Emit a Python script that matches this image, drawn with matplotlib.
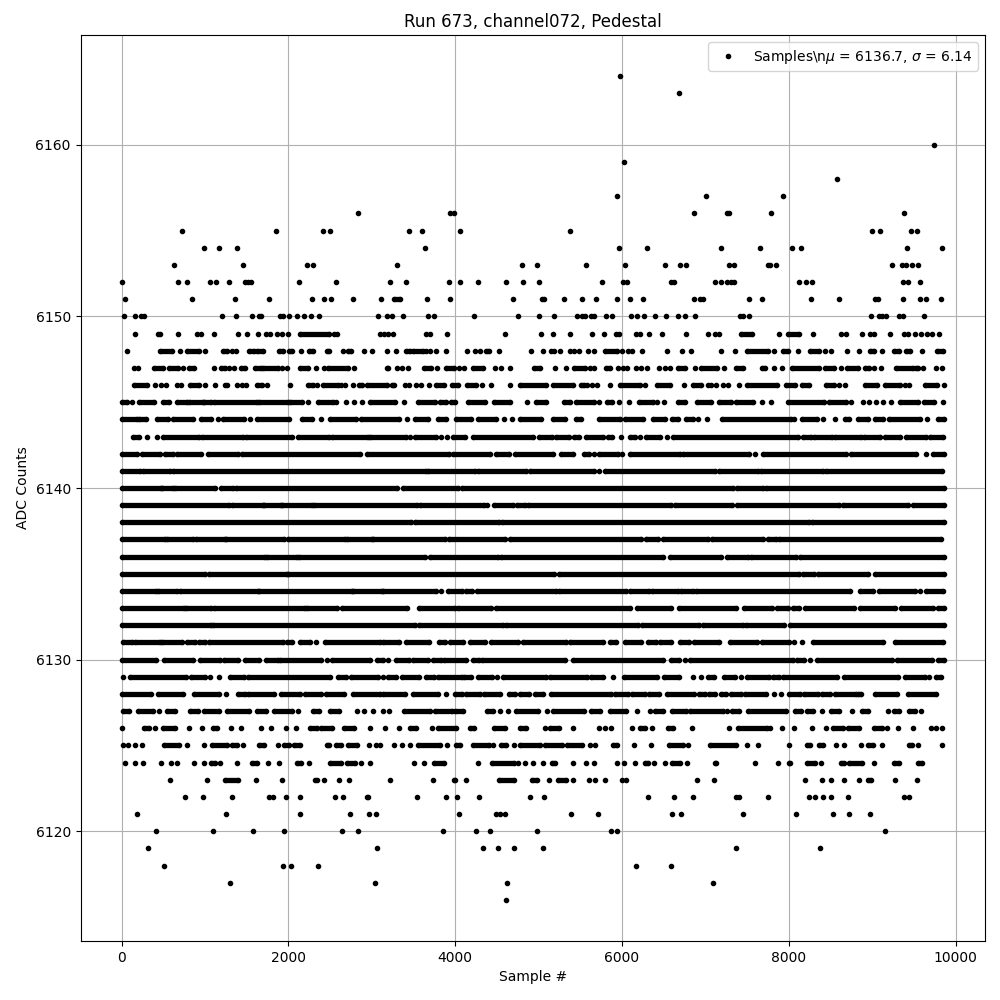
import matplotlib
matplotlib.use("Agg")
import matplotlib.pyplot as plt

# one list per ADC level
# a number is one visible dot, a tuple is a stretch where the dots merge into a bar
lvl_6164 = [5976]
lvl_6163 = [6684]
lvl_6160 = [9744]
lvl_6159 = [6024]
lvl_6158 = [8580]
lvl_6157 = [5940, 7008, 7932]
lvl_6156 = [2840, 3940, 3980, 6864, 7264, 7288, 7788, 9384]
lvl_6155 = [728, 1856, 2420, 2504, 3452, 3596, 4052, 5376, 9000, 9096, 9468, 9540]
lvl_6154 = [992, 1172, 1388, 3632, 5964, 6300, 7188, 7656, 8040, 8148, 9420, 9840]
lvl_6153 = [632, 1460, 2228, 2292, 3308, 4796, 4976, 5568, 6036, 6516, 6696, 6768, 7284, 7344,
            7752, 7776, 7848, 9240, 9360, 9408, 9480, 9552]
lvl_6152 = [0, 680, 788, 1064, 1136, 1292, 1484, 1520, 1556, 2132, 2576, 3224, 3416, 3920, 4052,
            4268, 4604, 4808, 5000, 5760, 6012, 6060, 6592, 6620, 7116, 7188, 7260, 7308, 7344,
            8124, 8208, 8280, 9372, 9432, 9576]
lvl_6151 = [44, 848, 1364, 1772, 2288, 2432, 2516, 2780, 3116, (3268, 3344), 3656, 3932, 4688,
            5040, 5064, 5304, 5520, 5688, 5940, 6096, 6252, 6864, 6936, 6972, 7524, 7680, 8268,
            8604, 9036, 9072, 9372, 9576, 9640, 9828]
lvl_6150 = [32, 164, 236, 272, 1208, 1376, 1568, 1652, 1676, 1904, 1940, 2012, 2108, 2192, 2276,
            2372, 3080, 3188, 3248, 3380, 3668, 3740, 4220, 4748, 5000, 5184, 5460, 5520, 5556,
            5628, 5664, 5808, 5880, 6108, 6180, 6264, 6396, 6528, 6672, 6756, 6876, 7416, 7452,
            7524, 8988, 9084, 9120, 9168, 9324, 9372, 9624]
lvl_6149 = [164, 440, 464, 676, 908, 956, 1112, 1400, 1504, 1640, 1736, 1784, 1868, 1928, 2000,
            (2144, 2492), 2552, 2588, 3104, 3152, 3200, 3260, 3644, 3692, 3900, 4592, 5028, 5172,
            5376, 5640, 5784, 5928, 5964, 6168, 6216, 6324, 6480, 6768, 7032, 7116, 7164,
            (7428, 7560), 7884, (7992, 8124), 8292, 8628, 8692, 8880, 8976, 9024, 9216, 9384,
            9432, 9516, 9588, 9660, 9720, 9804]
lvl_6148 = [68, (464, 608), 704, (788, 932), 1004, (1220, 1268), 1328, 1376, (1532, 1592),
            (1628, 1700), (1892, 1940), (2012, 2048), 2156, (2252, 2300), (2468, 2492), 2660,
            (2720, 2756), 2912, 3008, 3188, 3296, (3416, 3464), (3500, 3608), 3644, 3692, 3764,
            3884, 4136, 4232, 4292, (4364, 4400), 4524, 4904, 5052, 5148, 5184, 5256, 5376, 5424,
            5484, 5592, 5664, (5796, 5940), 6000, 6072, 6120, 6240, 6540, 6720, 6828, 7188, 7356,
            (7500, 7752), 7820, (7932, 7992), 8112, (8256, 8364), 8436, 8508, 8700, 8844,
            (8976, 9024), 9116, (9264, 9324), (9408, 9456), 9600, (9780, 9852)]
lvl_6147 = [152, 200, (392, 500), (572, 680), 740, (812, 872), 1112, (1196, 1244), 1292, 1352,
            (1436, 1484), (1604, 1676), (1700, 1880), 1928, 1988, (2144, 2240), 2336, 2432,
            (2480, 2720), 2792, (3180, 3200), 3308, 3368, 3440, (3620, 3704), 3776, (3884, 3980),
            4040, 4100, (4208, 4328), 4472, 4544, 4652, (4940, 5020), 5196, 5328, (5424, 5556),
            5616, 5664, (5808, 5856), 5952, 6012, 6060, 6168, 6228, 6300, 6444, 6516, 6576,
            (6672, 6756), 6876, (6948, 7140), 7224, (7368, 7452), (7680, 7716), 7820, 7920,
            (8040, 8364), (8436, 8544), 8628, (8700, 8832), (8916, 8964), 9024, 9108,
            (9288, 9492), (9528, 9552), 9612, 9768, 9840]
lvl_6146 = [(152, 308), 404, 476, 536, 668, 716, (824, 932), 1004, 1120, 1244, 1268, 1388, 1448,
            1496, (1628, 1688), 1748, 2024, (2240, 2300), 2348, (2420, 2600), 2636, 2684, 2780,
            (2852, 2888), (2948, 3188), (3248, 3272), 3404, 3452, 3536, 3584, 3680, (3764, 3860),
            (3956, 4028), (4136, 4244), 4316, 4424, 4652, (4772, 5092), (5172, 5412),
            (5508, 5544), 5580, 5640, 5700, 5856, (5976, 6216), 6276, (6420, 6576), 6744,
            (6852, 6948), 7032, 7068, 7128, 7212, 7272, 7404, (7500, 7860), (7968, 8076),
            (8160, 8244), (8448, 8544), 8604, 8676, (8916, 9060), (9156, 9336), 9396, 9444,
            (9636, 9780), 9860]
lvl_6145 = [(0, 68), 128, (212, 392), (500, 572), (668, 788), (812, 980), (992, 1076),
            (1112, 1620), (1652, 2000), (2020, 2168), 2240, (2360, 2540), 2576, 2692, 2792, 2888,
            (2984, 3280), 3392, (3552, 3752), (3812, 3892), (3952, 4000), (4152, 4352),
            (4464, 4652), 4864, (4964, 5084), (5304, 5372), (5444, 5660), 5724, (5820, 5884),
            5964, 6084, (6204, 6372), 6420, 6500, (6672, 6752), (6896, 7068), (7160, 7308),
            (7368, 7568), 7680, 7788, (7988, 8428), (8488, 8688), 8744, 8888, 8960, 9044, 9128,
            9224, (9328, 9548), (9620, 9740), 9848]
lvl_6144 = [(0, 188), (212, 296), (428, 560), (620, 860), (956, 1076), 1160, (1220, 1472), 1544,
            (1620, 2012), (2168, 2288), 2392, (2504, 2816), (2876, 3332), 3420, (3524, 3672),
            (3792, 3892), (4012, 4192), (4272, 4492), 4584, 4680, (4772, 5032), (5172, 5312),
            (5452, 5512), (5724, 5972), (6032, 6252), (6372, 6512), (6604, 6672), (6768, 6848),
            6916, 7020, (7196, 8028), 8060, (8156, 8336), 8408, 8552, (8672, 8728), (8828, 8948),
            (9028, 9128), (9200, 9568), 9656, (9788, 9860)]
lvl_6143 = [(140, 212), 308, 428, (500, 932), (968, 1460), (1488, 2048), (2120, 2492),
            (2528, 2960), (2984, 3412), 3460, (3524, 3772), 3832, 3900, (3972, 4112), (4212, 4932),
            (5004, 5164), (5212, 5360), (5424, 5484), (5572, 5772), (5832, 5884), 5992,
            (6100, 6152), 6212, (6292, 6460), 6540, (6612, 8108), (8168, 8268), (8308, 8516),
            (8556, 8868), (8900, 9088), (9148, 9328), (9408, 9648), (9688, 9848)]
lvl_6142 = [(0, 188), (248, 464), (524, 620), (668, 956), (1040, 1400), (1448, 2856),
            (2948, 3924), (3972, 4412), (4492, 4644), (4712, 5172), (5264, 5412), (5544, 5604),
            5664, (5724, 5952), 6000, (6100, 6692), (6732, 7528), 7600, (7688, 8688),
            (8748, 9528), 9648, (9728, 9860)]
lvl_6141 = [(0, 224), (260, 584), (620, 3652), (3672, 4232), (4272, 4844), (4892, 5660), 5724,
            (5792, 7120), (7160, 7628), (7668, 8408), (8448, 9840)]
lvl_6140 = [(0, 476), (490, 620), (644, 1124), (1196, 1340), (1376, 3300), (3372, 4032),
            (4084, 7336), (7376, 7688), (7728, 9860)]
lvl_6139 = [(0, 1292), (1328, 1700), (1712, 1912), (1928, 2288), (2312, 3540), (3580, 4340), 4380,
            (4460, 4692), (4740, 4832), (4872, 6592), (6632, 7320), (7376, 8608), (8648, 9428),
            (9488, 9860)]
lvl_6138 = [(0, 3472), (3524, 4524), (4564, 8240), (8280, 9860)]
lvl_6137 = [(0, 524), (548, 860), (896, 1240), (1256, 1952), (2000, 2684), (2708, 3008),
            (3020, 3872), (3924, 4592), (4660, 6232), (6284, 6432), (6492, 7028), (7076, 7696),
            (7748, 7848), (7888, 9828)]
lvl_6136 = [(0, 1724), (1748, 2100), (2132, 3632), (3700, 4512), (4552, 6492), (6572, 7188),
            (7256, 7508), (7548, 8088), (8136, 9860)]
lvl_6135 = [(0, 1004), (1052, 1988), (2000, 5180), (5240, 8128), (8168, 8308), (8348, 8948),
            (9028, 9860)]
lvl_6134 = [(0, 416), (440, 668), (704, 1640), (1652, 2768), (2780, 3124), (3140, 3764), 3824,
            (3912, 4084), (4132, 4204), (4260, 5204), (5244, 6044), (6100, 6324), (6364, 6672),
            (6712, 6848), (6888, 8736), (8856, 9008), (9080, 9508), 9568, (9648, 9848)]
lvl_6133 = [(0, 752), (776, 1076), (1112, 2204), (2228, 2588), (2648, 3420), (3572, 3992),
            (4032, 4432), (4484, 6100), (6180, 6592), (6684, 7368), (7460, 7800), (7856, 7988),
            (8048, 8120), (8200, 8788), (8860, 9268), (9348, 9728), (9788, 9860)]
lvl_6132 = [(0, 1076), (1100, 3524), (3572, 4572), (4612, 6192), (6244, 6928), (6976, 7448),
            (7488, 7948), (8016, 9860)]
lvl_6131 = [(20, 120), (164, 464), (488, 720), (788, 884), (932, 1004), (1052, 1940), (1988, 2048),
            (2144, 2264), 2336, (2444, 3100), (3140, 3332), (3412, 3684), (3804, 3872),
            (3932, 4092), (4172, 4352), (4432, 4752), (4812, 5332), (5372, 5772), (5852, 5932),
            (6032, 6232), (6312, 6412), (6460, 6592), (6692, 6808), (6868, 7168), (7300, 7616),
            (7680, 8008), 8068, 8160, (8288, 9128), (9268, 9848)]
lvl_6130 = [(0, 416), (512, 860), (944, 1184), (1232, 1400), (1484, 1652), (1736, 1880),
            (1904, 2396), 2468, (2528, 2984), (3068, 3140), 3200, (3296, 3452), (3500, 3668),
            (3728, 3824), (3860, 4124), (4208, 4280), (4316, 5316), (5412, 6492), (6588, 6684),
            6756, (6816, 8052), (8100, 8184), 8256, (8340, 9240), (9300, 9720), (9792, 9860)]
lvl_6129 = [20, (104, 776), (836, 1004), 1064, 1172, (1304, 1472), (1520, 2504), (2600, 2696),
            (2756, 3080), 3140, (3200, 3296), (3368, 3572), (3644, 3740), (3788, 4076),
            (4100, 4184), (4268, 4436), 4496, (4568, 5092), (5136, 5580), (5628, 5772), 5892,
            (6024, 6420), (6504, 6684), 6852, 6948, (7032, 7104), (7224, 7356), 7428, (7500, 7764),
            (7812, 7884), (7932, 8580), (8664, 9312), (9396, 9636), 9684, (9768, 9828)]
lvl_6128 = [(8, 356), (440, 740), (872, 1172), 1256, (1400, 1484), (1520, 1832), (1916, 2144),
            (2204, 2396), (2456, 2672), (2780, 3104), (3140, 3404), (3500, 3788), 3884,
            (3992, 4076), (4124, 4292), (4340, 4532), (4640, 4712), (4772, 4880), (4952, 5052),
            (5148, 5868), (5916, 6072), (6120, 6276), (6324, 6444), (6540, 6864), (6924, 6996),
            (7044, 7116), (7188, 7248), (7308, 7428), (7476, 7728), 7824, 7908, (8004, 8136),
            (8184, 8352), (8400, 8496), (8556, 8808), (8832, 8868), (9036, 9300), (9432, 9768)]
lvl_6127 = [(20, 92), (200, 380), 452, (540, 644), (824, 920), (992, 1172), (1268, 1532),
            (1628, 1736), (1832, 2048), 2120, (2300, 2372), (2504, 2612), 2828, 2912, 3020, 3140,
            3212, (3392, 3692), (3752, 3956), (3992, 4088), (4376, 4448), 4532, 4628, (4724, 4988),
            5100, (5172, 5544), (5628, 5736), (5856, 6048), 6180, 6336, (6396, 6492), (6600, 6768),
            (6816, 7212), 7260, (7320, 7404), (7512, 7968), (8076, 8148), (8220, 8292), 8400,
            (8508, 8604), 8760, (8880, 8952), 9192, (9264, 9324), (9444, 9516), 9588]
lvl_6126 = [8, (272, 332), 404, (500, 644), 812, 968, (1100, 1148), 1316, 1436, 1676, 1796, 1976,
            2096, (2264, 2348), (2396, 2528), (2672, 2792), 2984, 3164, 3332, (3464, 3536), 3716,
            (3788, 4004), (4172, 4220), (4460, 4592), (4772, 4844), 5076, (5136, 5244), 5412, 5724,
            5796, 5868, 6120, (6216, 6276), 6360, (6552, 6612), 6840, 7284, (7392, 7740), 7776,
            7920, 8064, 8280, 8448, (8532, 8652), (8712, 8844), (9024, 9120), 9180, 9312, 9492,
            9708, 9768, 9840]
lvl_6125 = [20, 80, 164, 248, (512, 692), 788, 992, (1088, 1268), (1328, 1388), 1460, (1652, 1712),
            1880, (1952, 2012), (2072, 2144), (2468, 2492), (2576, 2636), (2720, 2828), 2972, 3056,
            3104, 3272, 3368, 3464, (3560, 3820), 3896, (4004, 4052), (4208, 4400), 4448,
            (4544, 4604), 4700, (4772, 5012), (5076, 5280), (5340, 5520), 5616, 5676, (5892, 5940),
            6144, 6348, (6564, 6732), 6792, (7056, 7368), 7500, 7632, 8004, (8220, 8256),
            (8364, 8412), 8568, 8664, 8868, (8952, 9012), 9120, (9444, 9480), 9552, 9840]
lvl_6124 = [44, 164, 260, 476, 596, 668, 872, 992, (1076, 1124), 1184, 1388, (1568, 1628), 1760,
            1892, (2108, 2156), 2252, (2504, 2636), (2708, 2804), 2868, 2984, 3512, 3620,
            (3740, 3860), 4268, (4436, 4700), 4748, 4832, 4928, 5052, (5160, 5196), 5412, 5568,
            5664, 5940, 6024, 6156, (6276, 6312), 6384, 6516, (6600, 6696), 6780, (7116, 7128),
            7596, 7872, (8004, 8016), (8220, 8316), 8388, (8628, 8664), (8724, 8880), 9024,
            (9264, 9324), (9552, 9600)]
lvl_6123 = [584, 1028, (1244, 1400), 1616, 1928, 2324, 2348, 2432, 2612, 2732, 3224, 3728, 3980,
            4000, 4124, (4520, 4700), (4916, 4976), 5124, (5232, 5328), 5412, 5604, 5676, 5796,
            6000, 6048, 6900, 7104, 8196, 8400, 8508, 8664, 8844, (8952, 8988), 9276, 9540]
lvl_6122 = [764, 980, 1328, 1772, 1820, 1976, 2144, 2564, 2660, 2948, 2960, 3548, 3884, 4016, 4280,
            4892, 5064, 6312, 6624, 6852, 7368, 7404, 7752, 8244, 8316, 8412, 8508, 8712, 9384,
            9444]
lvl_6121 = [188, 1256, 2144, 2744, 2972, 3056, 4040, 4484, 4532, 4592, 5388, 5712, 6600, 6708, 7452,
            8088, 8532, 8724, 8976]
lvl_6120 = [416, 1100, 1580, 1952, 2648, 2840, 3848, 4244, 4412, 4976, 5868, 5940, 9156]
lvl_6119 = [320, 3068, 4328, 4508, 4700, 5052, 7368, 8376]
lvl_6118 = [512, 1940, 2036, 2360, 6168, 6588]
lvl_6117 = [1304, 3044, 4616, 7092]
lvl_6116 = [4604]

levels = [6164, 6163, 6160, 6159, 6158, 6157, 6156, 6155, 6154, 6153, 6152, 6151, 6150, 6149, 6148,
          6147, 6146, 6145, 6144, 6143, 6142, 6141, 6140, 6139, 6138, 6137, 6136, 6135, 6134, 6133,
          6132, 6131, 6130, 6129, 6128, 6127, 6126, 6125, 6124, 6123, 6122, 6121, 6120, 6119, 6118,
          6117, 6116]
rows = [lvl_6164, lvl_6163, lvl_6160, lvl_6159, lvl_6158, lvl_6157, lvl_6156, lvl_6155, lvl_6154,
        lvl_6153, lvl_6152, lvl_6151, lvl_6150, lvl_6149, lvl_6148, lvl_6147, lvl_6146, lvl_6145,
        lvl_6144, lvl_6143, lvl_6142, lvl_6141, lvl_6140, lvl_6139, lvl_6138, lvl_6137, lvl_6136,
        lvl_6135, lvl_6134, lvl_6133, lvl_6132, lvl_6131, lvl_6130, lvl_6129, lvl_6128, lvl_6127,
        lvl_6126, lvl_6125, lvl_6124, lvl_6123, lvl_6122, lvl_6121, lvl_6120, lvl_6119, lvl_6118,
        lvl_6117, lvl_6116]

xs, ys = [], []
bar_y, bar_start, bar_end = [], [], []
for level, row in zip(levels, rows):
    for item in row:
        if isinstance(item, tuple):
            xs += list(item)
            ys += [level, level]
            bar_y.append(level)
            bar_start.append(item[0])
            bar_end.append(item[1])
        else:
            xs.append(item)
            ys.append(level)

fig, ax = plt.subplots(figsize=(10, 10))
ax.plot(xs, ys, "k.", label="Samples\\n$\\mu$ = 6136.7, $\\sigma$ = 6.14")
ax.hlines(bar_y, bar_start, bar_end, colors="k", linewidth=3.8, zorder=2)
ax.set_title("Run 673, channel072, Pedestal")
ax.set_xlabel("Sample #")
ax.set_ylabel("ADC Counts")
ax.grid(True)
ax.legend(loc="upper right")
fig.subplots_adjust(left=0.0805, right=0.985, top=0.965, bottom=0.059)
fig.savefig("out.png", dpi=100)
